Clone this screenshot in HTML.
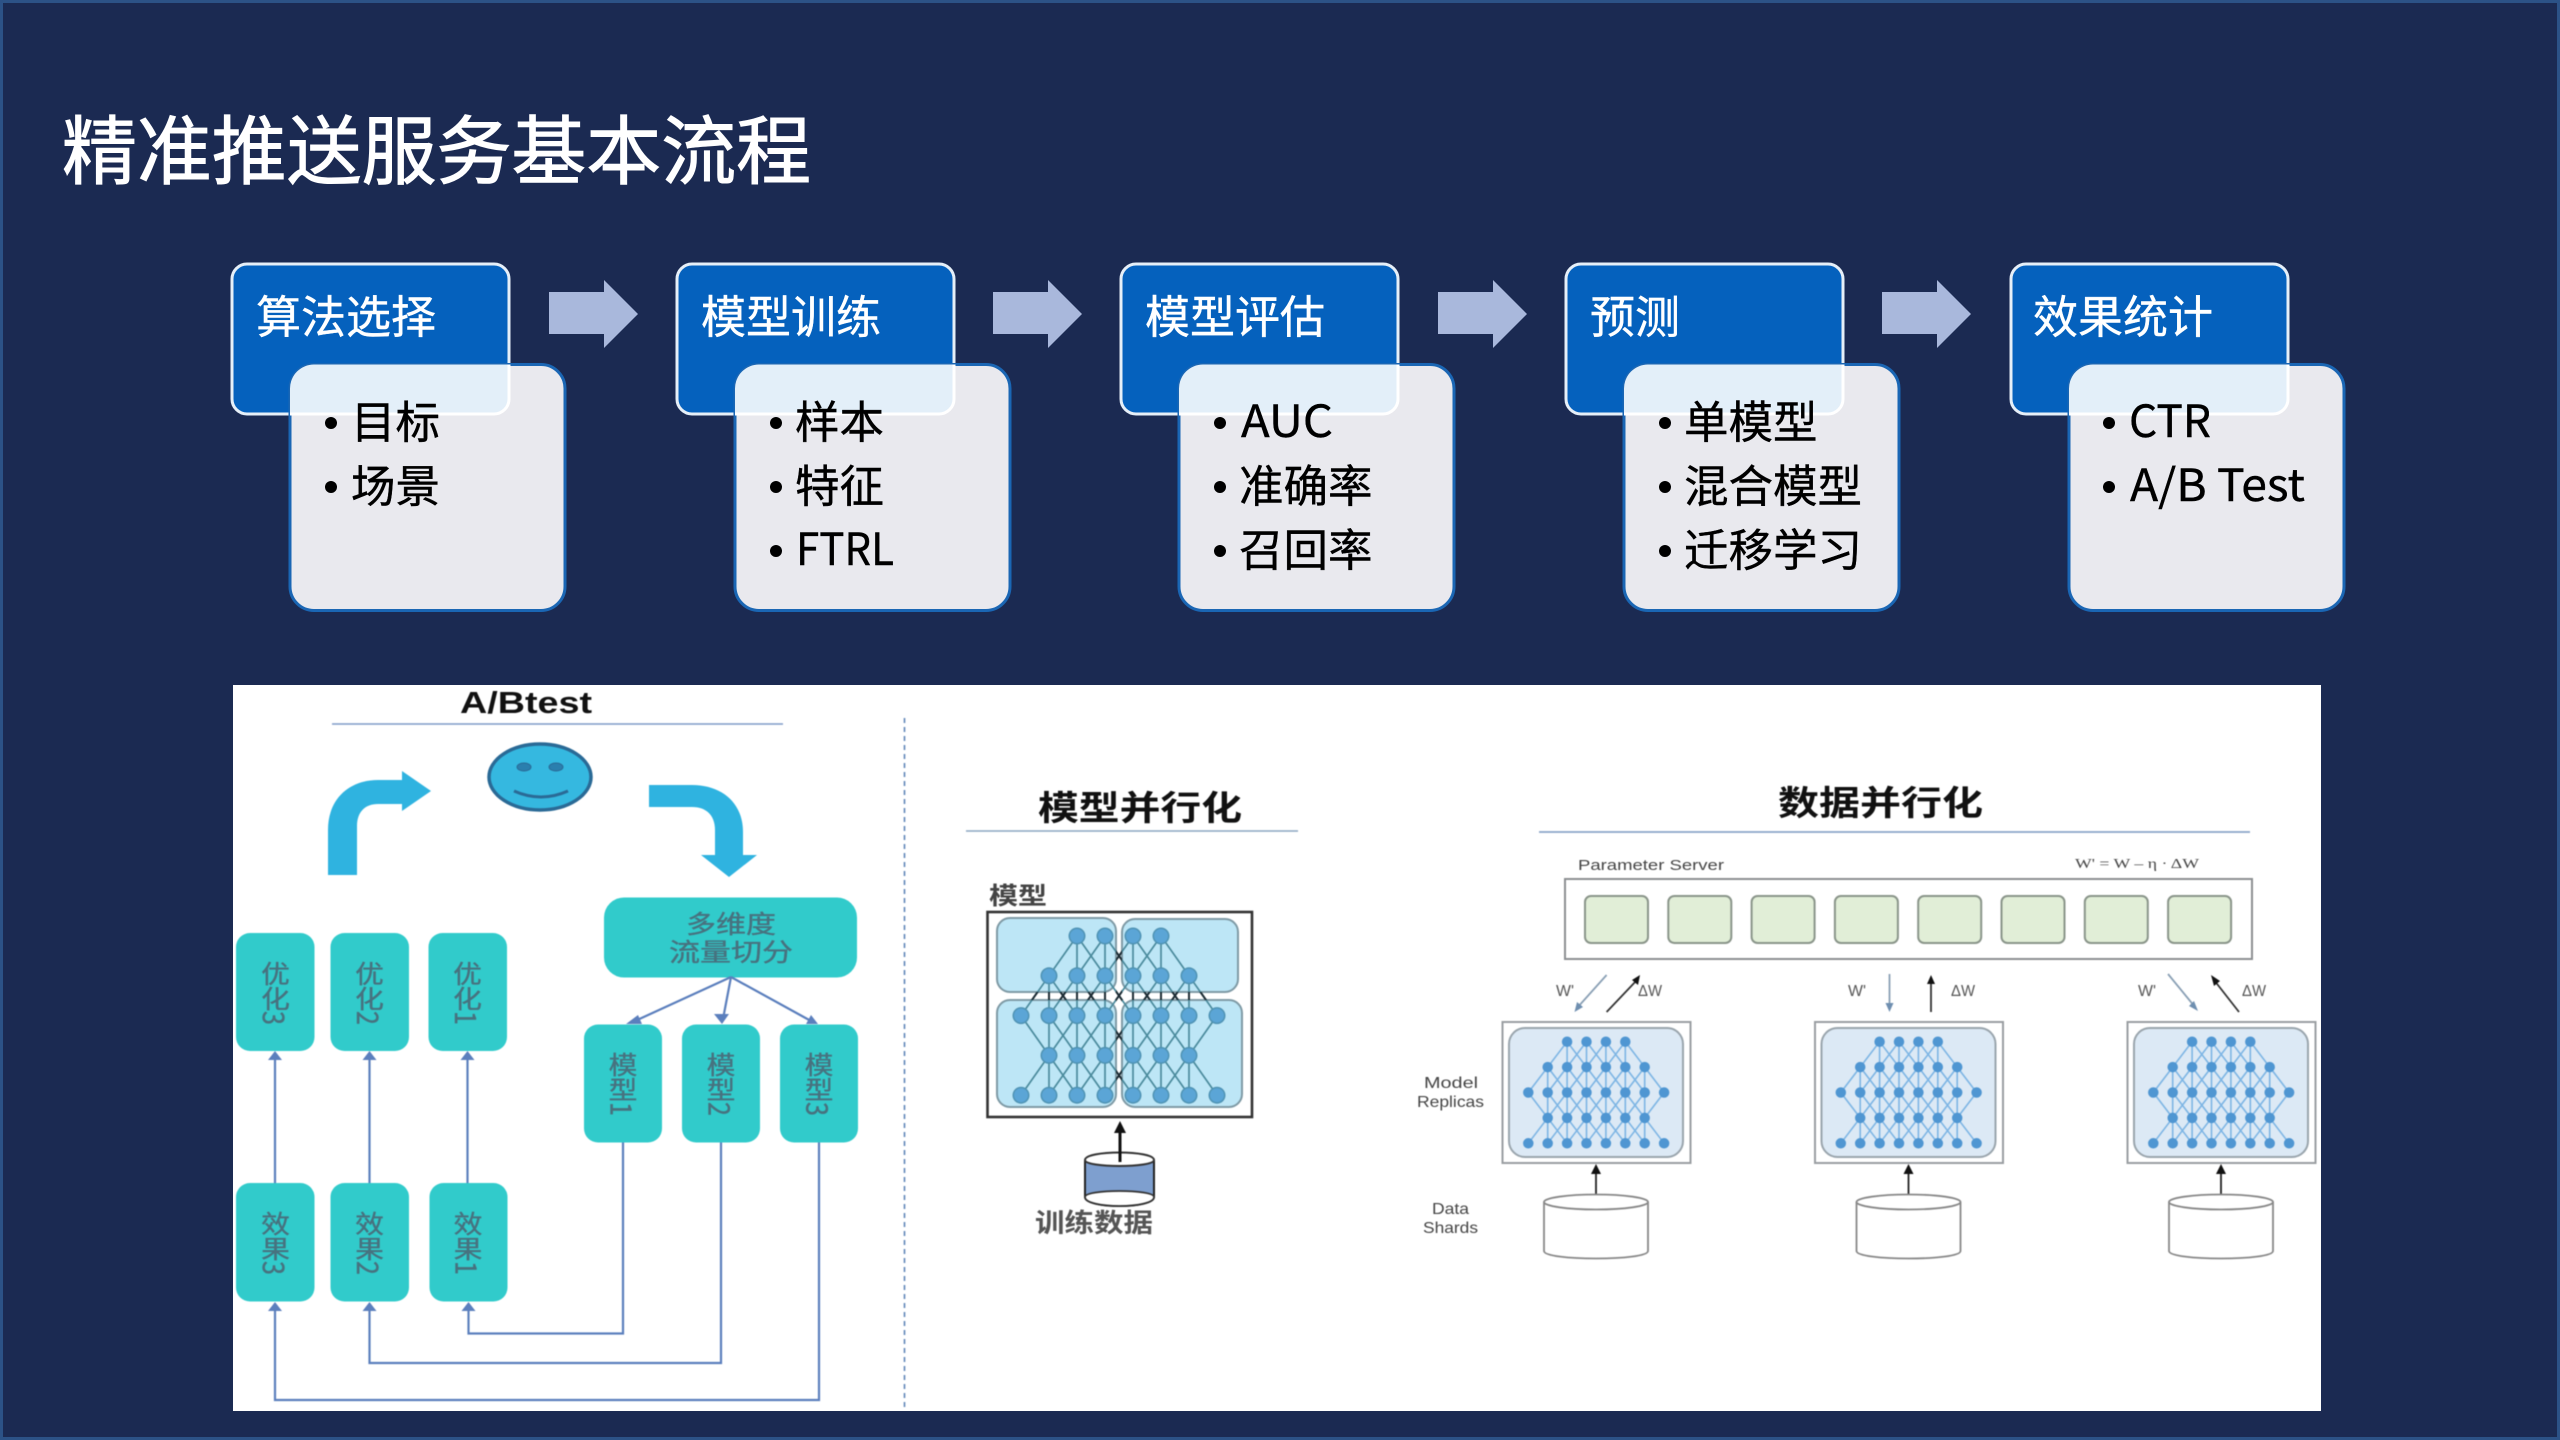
<!DOCTYPE html>
<html lang="zh-CN">
<head>
<meta charset="utf-8">
<title>精准推送服务基本流程</title>
<style>
html,body{margin:0;padding:0;background:#1b2a52;width:2560px;height:1440px;overflow:hidden}
svg{display:block}
text{font-family:"Noto Sans CJK SC","Liberation Sans",sans-serif}
.t{font-size:45px;fill:#fff;stroke:#fff;stroke-width:.4px}
.b{font-size:44.5px;fill:#000;stroke:#000;stroke-width:.4px}
.v{font-size:25px;fill:#47727f;stroke:#47727f;stroke-width:.35px;writing-mode:vertical-rl}
.h{font-size:34px;font-weight:700;fill:#111}
.lab{font-family:"Liberation Sans",sans-serif;font-size:16px;fill:#444}
.ser{font-family:"Liberation Sans",sans-serif;font-size:16px;fill:#555;text-anchor:middle}
</style>
</head>
<body>
<svg width="2560" height="1440" viewBox="0 0 2560 1440" xmlns="http://www.w3.org/2000/svg">
<defs>
  <clipPath id="bc"><rect x="290" y="364.5" width="275" height="246" rx="24"/></clipPath>
  <g id="card">
    <rect x="232" y="264" width="277" height="150" rx="15" fill="#0561bd" stroke="#e6eff8" stroke-width="3"/>
    <rect x="290" y="364.5" width="275" height="246" rx="24" fill="#e9e9ee" stroke="#1a66b4" stroke-width="3"/>
    <g clip-path="url(#bc)"><rect x="232" y="264" width="277" height="150" rx="15" fill="#e3eff9" stroke="#fff" stroke-width="3"/></g>
  </g>
  <path id="arrow" d="M549 292H604V280L638 314L604 348V334H549Z" fill="#a9b8dc"/>
  <path id="edges" vector-effect="non-scaling-stroke" fill="none" d="M10 10L20 0L30 10M20 0V10M20 10L30 0L40 10M30 0V10M30 10L40 0L50 10M40 0V10M40 10L50 0L60 10M50 0V10
  M0 20L10 10L20 20M10 10V20M10 20L20 10L30 20M20 10V20M20 20L30 10L40 20M30 10V20M30 20L40 10L50 20M40 10V20M40 20L50 10L60 20M50 10V20M50 20L60 10L70 20M60 10V20
  M0 20L10 30L20 20M10 20V30M10 20L20 30L30 20M20 20V30M20 20L30 30L40 20M30 20V30M30 20L40 30L50 20M40 20V30M40 20L50 30L60 20M50 20V30M50 20L60 30L70 20M60 20V30
  M0 40L10 30L20 40M10 30V40M10 40L20 30L30 40M20 30V40M20 40L30 30L40 40M30 30V40M30 40L40 30L50 40M40 30V40M40 40L50 30L60 40M50 30V40M50 40L60 30L70 40M60 30V40"/>
  <path id="nodes" vector-effect="non-scaling-stroke" fill="none" stroke-linecap="round" d="M20 0h0M30 0h0M40 0h0M50 0h0
  M10 10h0M20 10h0M30 10h0M40 10h0M50 10h0M60 10h0
  M0 20h0M10 20h0M20 20h0M30 20h0M40 20h0M50 20h0M60 20h0M70 20h0
  M10 30h0M20 30h0M30 30h0M40 30h0M50 30h0M60 30h0
  M0 40h0M10 40h0M20 40h0M30 40h0M40 40h0M50 40h0M60 40h0M70 40h0"/>
  <g id="replica">
    <rect x="1502.5" y="1022" width="188" height="141" fill="#fff" stroke="#9a9ea2" stroke-width="2"/>
    <rect x="1509" y="1028" width="174" height="129" rx="16" fill="#dce9f5" stroke="#9aa5ad" stroke-width="2"/>
    <use href="#edges" transform="translate(1528.3 1041.7) scale(1.94 2.54)" stroke="#7db5e4" stroke-width="1.6"/>
    <use href="#nodes" transform="translate(1528.3 1041.7) scale(1.94 2.54)" stroke="#4f96d2" stroke-width="10.5"/>
    <path d="M1596 1195V1172" stroke="#222" stroke-width="1.8"/>
    <path d="M1596 1164L1601 1174H1591Z" fill="#111"/>
    <path d="M1544 1202V1251C1544 1261 1648 1261 1648 1251V1202" fill="#fff" stroke="#888" stroke-width="1.8"/>
    <ellipse cx="1596" cy="1202" rx="52" ry="7.5" fill="#fff" stroke="#888" stroke-width="1.8"/>
  </g>
  <clipPath id="gap"><rect x="997" y="992" width="245" height="8"/><rect x="1116" y="918" width="6" height="190"/></clipPath>
</defs>

<rect x="1.5" y="1.5" width="2557" height="1437" fill="#1b2a52" stroke="#2c5286" stroke-width="3"/>

<text x="62" y="178" font-size="75" fill="#fff" stroke="#fff" stroke-width="1" textLength="749" lengthAdjust="spacingAndGlyphs">精准推送服务基本流程</text>

<!-- cards -->
<use href="#card"/>
<use href="#card" x="445"/>
<use href="#card" x="889"/>
<use href="#card" x="1334"/>
<use href="#card" x="1779"/>
<use href="#arrow"/>
<use href="#arrow" x="444"/>
<use href="#arrow" x="889"/>
<use href="#arrow" x="1333"/>

<text class="t" x="256" y="333">算法选择</text>
<text class="t" x="701" y="333">模型训练</text>
<text class="t" x="1145" y="333">模型评估</text>
<text class="t" x="1590" y="333">预测</text>
<text class="t" x="2033" y="333">效果统计</text>

<g fill="#000">
  <circle cx="331" cy="423" r="6"/><circle cx="331" cy="487" r="6"/>
  <circle cx="776" cy="423" r="6"/><circle cx="776" cy="487" r="6"/><circle cx="776" cy="551" r="6"/>
  <circle cx="1220" cy="423" r="6"/><circle cx="1220" cy="487" r="6"/><circle cx="1220" cy="551" r="6"/>
  <circle cx="1665" cy="423" r="6"/><circle cx="1665" cy="487" r="6"/><circle cx="1665" cy="551" r="6"/>
  <circle cx="2109" cy="423" r="6"/><circle cx="2109" cy="487" r="6"/>
</g>
<text class="b" x="351" y="438">目标</text>
<text class="b" x="351" y="502">场景</text>
<text class="b" x="795" y="438">样本</text>
<text class="b" x="795" y="502">特征</text>
<text class="b" x="796" y="565" textLength="98" lengthAdjust="spacingAndGlyphs">FTRL</text>
<text class="b" x="1241" y="437" textLength="92" lengthAdjust="spacingAndGlyphs">AUC</text>
<text class="b" x="1239" y="502">准确率</text>
<text class="b" x="1239" y="566">召回率</text>
<text class="b" x="1684" y="438">单模型</text>
<text class="b" x="1684" y="502">混合模型</text>
<text class="b" x="1684" y="566">迁移学习</text>
<text class="b" x="2129" y="437" textLength="82" lengthAdjust="spacingAndGlyphs">CTR</text>
<text class="b" x="2130" y="501" textLength="175" lengthAdjust="spacingAndGlyphs">A/B Test</text>

<!-- white picture -->
<rect x="233" y="685" width="2088" height="726" fill="#fff"/>

<g style="filter:blur(.5px)">
<!-- A/B test -->
<text x="460" y="713" font-size="31" font-weight="700" fill="#111" textLength="132" lengthAdjust="spacingAndGlyphs" style="font-family:'Liberation Sans',sans-serif">A/Btest</text>
<path d="M332 724H783" stroke="#7f9ac8" stroke-width="1.6"/>
<ellipse cx="540" cy="777" rx="51" ry="33" fill="#35b8e0" stroke="#2a6a96" stroke-width="3.5"/>
<ellipse cx="524" cy="767" rx="7" ry="4" fill="#2a7fae" stroke="#2a6a96"/>
<ellipse cx="556" cy="767" rx="7" ry="4" fill="#2a7fae" stroke="#2a6a96"/>
<path d="M514 791Q541 803 568 791" fill="none" stroke="#2a6a96" stroke-width="3"/>
<path d="M328 875V830C328 798 350 780 378 780H402V771L431 791L402 811V804H378C365 804 357 812 357 826V875Z" fill="#2fb3e0"/>
<path d="M649 785H692C722 785 743 803 743 832V855H757L729 877L701 855H715V830C715 816 707 807 692 807H649Z" fill="#2fb3e0"/>

<g fill="#31cbcb">
  <rect x="604" y="897.5" width="253" height="80" rx="20"/>
  <rect x="236" y="933" width="78.5" height="118" rx="14"/>
  <rect x="330.5" y="933" width="78.5" height="118" rx="14"/>
  <rect x="428.5" y="933" width="78.5" height="118" rx="14"/>
  <rect x="236" y="1183" width="78.5" height="118.5" rx="14"/>
  <rect x="330.5" y="1183" width="78.5" height="118.5" rx="14"/>
  <rect x="429.5" y="1183" width="78" height="118.5" rx="14"/>
  <rect x="584" y="1024.5" width="78" height="118" rx="14"/>
  <rect x="682" y="1024.5" width="78" height="118" rx="14"/>
  <rect x="780" y="1024.5" width="78" height="118" rx="14"/>
</g>
<text x="686" y="933" font-size="25" fill="#47727f" stroke="#47727f" stroke-width=".35" textLength="90" lengthAdjust="spacingAndGlyphs">多维度</text>
<text x="669" y="961" font-size="25" fill="#47727f" stroke="#47727f" stroke-width=".35" textLength="124" lengthAdjust="spacingAndGlyphs">流量切分</text>

<text class="v" transform="translate(275.5 961) scale(1.15 1)">优化3</text>
<text class="v" transform="translate(369.5 961) scale(1.15 1)">优化2</text>
<text class="v" transform="translate(467.5 961) scale(1.15 1)">优化1</text>
<text class="v" transform="translate(275.5 1211) scale(1.15 1)">效果3</text>
<text class="v" transform="translate(369.5 1211) scale(1.15 1)">效果2</text>
<text class="v" transform="translate(468 1211) scale(1.15 1)">效果1</text>
<text class="v" transform="translate(623 1052) scale(1.15 1)">模型1</text>
<text class="v" transform="translate(721 1052) scale(1.15 1)">模型2</text>
<text class="v" transform="translate(819 1052) scale(1.15 1)">模型3</text>

<g fill="none" stroke="#5b7fbd" stroke-width="2.2">
  <path d="M275 1183V1058M369.5 1183V1058M467.5 1183V1058"/>
  <path d="M623 1142.5V1333.5H468.5V1308"/>
  <path d="M721 1142.5V1363H369.5V1308"/>
  <path d="M819 1142.5V1400H275V1308"/>
  <path d="M731 977L635 1021M731 977L723 1019M731 977L811 1021"/>
</g>
<g fill="#5b7fbd">
  <path d="M275 1051L282 1060H268Z"/><path d="M369.5 1051L376.5 1060H362.5Z"/><path d="M467.5 1051L474.5 1060H460.5Z"/>
  <path d="M275 1302L282 1311H268Z"/><path d="M369.5 1302L376.5 1311H362.5Z"/><path d="M468.5 1302L475.5 1311H461.5Z"/>
  <path d="M626 1024L638 1015L642 1024Z"/><path d="M722 1024L714 1014H729Z"/><path d="M818 1024L806 1024L811 1015Z"/>
</g>

<path d="M904.5 718V1411" stroke="#5f86b8" stroke-width="1.6" stroke-dasharray="5 4"/>

<!-- model parallel -->
<text class="h" x="1038" y="820" textLength="204" lengthAdjust="spacingAndGlyphs">模型并行化</text>
<path d="M966 831H1298" stroke="#8aa5c0" stroke-width="1.6"/>
<text x="989" y="904" font-size="24" font-weight="700" fill="#444" textLength="58" lengthAdjust="spacingAndGlyphs">模型</text>
<rect x="987.5" y="912" width="264.5" height="205" fill="#fff" stroke="#333" stroke-width="2.6"/>
<g fill="#bde6f6" stroke="#7f9aa5" stroke-width="2">
  <rect x="997" y="918" width="119" height="74" rx="13"/>
  <rect x="1122" y="919" width="116" height="73" rx="13"/>
  <rect x="997" y="1000" width="119" height="107" rx="13"/>
  <rect x="1122" y="1000" width="120" height="107" rx="13"/>
</g>
<use href="#edges" transform="translate(1021 936) scale(2.8 3.98)" stroke="#4a8a9c" stroke-width="1.7"/>
<g clip-path="url(#gap)"><use href="#edges" transform="translate(1021 936) scale(2.8 3.98)" stroke="#1c2b33" stroke-width="2"/></g>
<use href="#nodes" transform="translate(1021 936) scale(2.8 3.98)" stroke="#4f93b4" stroke-width="17"/>
<use href="#nodes" transform="translate(1021 936) scale(2.8 3.98)" stroke="#5ba5d6" stroke-width="14"/>
<path d="M1120 1160V1130" stroke="#111" stroke-width="3"/>
<path d="M1120 1121L1126 1133H1114Z" fill="#111"/>
<path d="M1085 1160V1197C1085 1209 1154 1209 1154 1197V1160" fill="#7e9fcf" stroke="#222" stroke-width="2"/>
<path d="M1085 1160C1085 1150 1154 1150 1154 1160C1154 1168 1085 1168 1085 1160Z" fill="#fff" stroke="#333" stroke-width="2"/>
<path d="M1085 1197C1085 1189 1154 1189 1154 1197C1154 1209 1085 1209 1085 1197Z" fill="#fff" stroke="#333" stroke-width="1.8"/>
<path d="M1120 1162V1150" stroke="#111" stroke-width="3"/>
<text x="1035" y="1232" font-size="26" font-weight="700" fill="#555" textLength="118" lengthAdjust="spacingAndGlyphs">训练数据</text>

<!-- data parallel -->
<text class="h" x="1778" y="815" textLength="205" lengthAdjust="spacingAndGlyphs">数据并行化</text>
<path d="M1539 832H2250" stroke="#8aa5c8" stroke-width="1.8"/>
<text x="1578" y="870" font-size="15" fill="#444" textLength="146" lengthAdjust="spacingAndGlyphs" style="font-family:'Liberation Sans',sans-serif">Parameter Server</text>
<text x="2075" y="868" font-size="14" fill="#444" textLength="124" lengthAdjust="spacingAndGlyphs" style="font-family:'Liberation Serif',serif">W' = W – η · ΔW</text>
<rect x="1565" y="879" width="687" height="80" fill="#fff" stroke="#8c8f92" stroke-width="2"/>
<g fill="#e1eed7" stroke="#8a958a" stroke-width="2">
  <rect x="1585" y="896" width="63" height="47" rx="6"/>
  <rect x="1668.3" y="896" width="63" height="47" rx="6"/>
  <rect x="1751.6" y="896" width="63" height="47" rx="6"/>
  <rect x="1834.9" y="896" width="63" height="47" rx="6"/>
  <rect x="1918.2" y="896" width="63" height="47" rx="6"/>
  <rect x="2001.5" y="896" width="63" height="47" rx="6"/>
  <rect x="2084.8" y="896" width="63" height="47" rx="6"/>
  <rect x="2168.1" y="896" width="63" height="47" rx="6"/>
</g>
<use href="#replica"/>
<use href="#replica" x="312.5"/>
<use href="#replica" x="625"/>

<g fill="none" stroke-width="1.8">
  <g stroke="#8aa0b5">
    <path d="M1606.6 975L1577 1008"/>
    <path d="M1889.5 974V1006"/>
    <path d="M2168 974L2195 1007"/>
  </g>
  <g stroke="#333">
    <path d="M1606.6 1012L1637 980"/>
    <path d="M1931 1012V982"/>
    <path d="M2239 1012L2214 980"/>
  </g>
</g>
<g fill="#6f8fb0">
  <path d="M1574.5 1012L1577 1002L1583 1007Z"/>
  <path d="M1889.5 1012L1885.5 1003H1893.5Z"/>
  <path d="M2198 1011L2189 1006L2194 1001Z"/>
</g>
<g fill="#111">
  <path d="M1640 975L1638 985L1632 980Z"/>
  <path d="M1931 975L1935 984H1927Z"/>
  <path d="M2211 975L2220 981L2214 986Z"/>
</g>
<text class="ser" x="1565" y="996" textLength="18" lengthAdjust="spacingAndGlyphs">W'</text><text class="ser" x="1650" y="996" textLength="24" lengthAdjust="spacingAndGlyphs">ΔW</text>
<text class="ser" x="1857" y="996" textLength="18" lengthAdjust="spacingAndGlyphs">W'</text><text class="ser" x="1963" y="996" textLength="24" lengthAdjust="spacingAndGlyphs">ΔW</text>
<text class="ser" x="2147" y="996" textLength="18" lengthAdjust="spacingAndGlyphs">W'</text><text class="ser" x="2254" y="996" textLength="24" lengthAdjust="spacingAndGlyphs">ΔW</text>
<text class="lab" x="1424" y="1088" textLength="54" lengthAdjust="spacingAndGlyphs">Model</text>
<text class="lab" x="1417" y="1107" textLength="67" lengthAdjust="spacingAndGlyphs">Replicas</text>
<text class="lab" x="1432" y="1214" textLength="37" lengthAdjust="spacingAndGlyphs">Data</text>
<text class="lab" x="1423" y="1233" textLength="55" lengthAdjust="spacingAndGlyphs">Shards</text>
</g>
</svg>
</body>
</html>
